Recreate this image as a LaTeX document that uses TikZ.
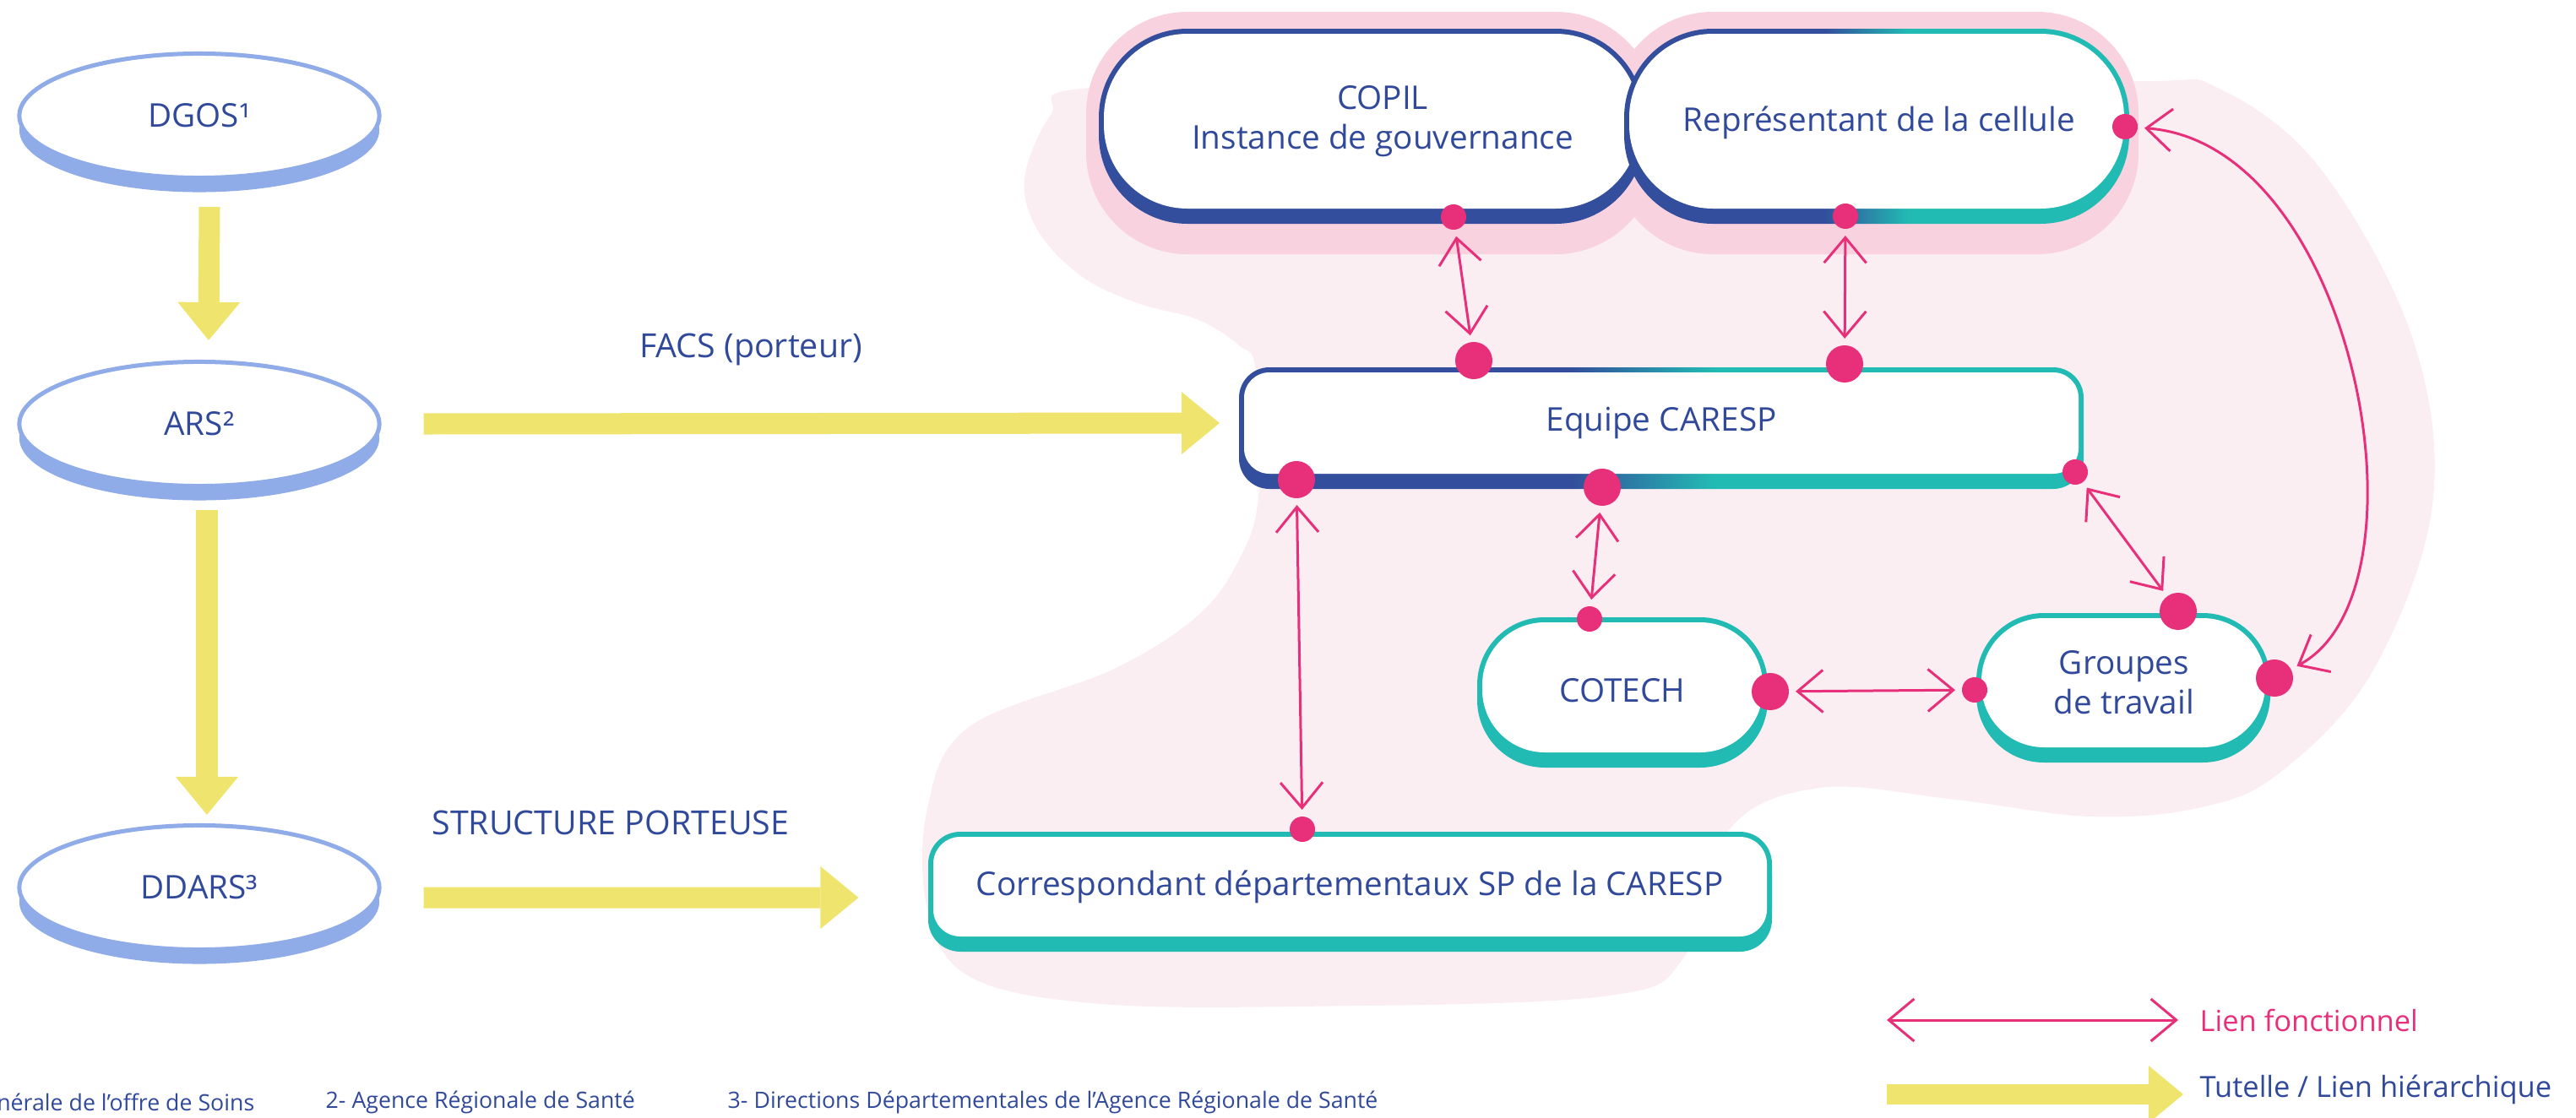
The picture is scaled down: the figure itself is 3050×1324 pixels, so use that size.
\documentclass[tikz,border=0pt]{standalone}
\usepackage{fontspec}
\setmainfont{Open Sans}
\usetikzlibrary{arrows.meta,shapes.geometric,shadows}
\definecolor{cnavy}{HTML}{334E9C}
\definecolor{ctext}{HTML}{31499A}
\definecolor{cteal}{HTML}{22BBB3}
\definecolor{cpink}{HTML}{E8307A}
\definecolor{cyel}{HTML}{EFE46D}
\definecolor{cell}{HTML}{8FABE8}
\definecolor{chalo}{HTML}{F9D2DF}
\definecolor{cblob}{HTML}{FBEEF2}
% x0,y0,x1,y1,Rout,Rin,color
\newcommand\solidbox[7]{%
  \fill[#7,rounded corners=#5] (#1,#2+12) rectangle (#3,#4+12);
  \fill[#7,rounded corners=#5] (#1,#2) rectangle (#3,#4);
  \fill[white,rounded corners=#6] (#1+6,#2+6) rectangle (#3-6,#4-6);
}
% x0,y0,x1,y1,Rout,Rin,g1,g2 (navy -> teal gradient between g1 and g2)
\newcommand\gradbox[8]{%
  \begin{scope}
    \clip[rounded corners=#5] (#1,#2) rectangle (#3,#4) (#1,#2+12) rectangle (#3,#4+12);
    \fill[cnavy] (#1-20,#2-20) rectangle (#7,#4+40);
    \shade[left color=cnavy,right color=cteal] (#7,#2-20) rectangle (#8,#4+40);
    \fill[cteal] (#8,#2-20) rectangle (#3+20,#4+40);
  \end{scope}
  \fill[white,rounded corners=#6] (#1+6,#2+6) rectangle (#3-6,#4-6);
}
\begin{document}
\begin{tikzpicture}[x=0.01cm,y=-0.01cm,
  lbl/.style={text=ctext,font=\fontsize{11}{13.4}\selectfont,align=center,inner sep=0pt},
  ell/.style={ellipse,draw=cell,line width=0.05cm,fill=white,minimum width=4.26cm,
    minimum height=1.47cm,inner sep=0pt,text=ctext,font=\fontsize{11}{13.4}\selectfont,
    general shadow={fill=cell,shadow xshift=0cm,shadow yshift=-0.17cm}},
  bigdot/.style={circle,fill=cpink,minimum size=0.44cm,inner sep=0pt,outer sep=0pt},
  smalldot/.style={circle,fill=cpink,minimum size=0.30cm,inner sep=0pt,outer sep=0pt},
  link/.style={draw=cpink,line width=0.03cm,>={Straight Barb[length=0.3cm,width=0.5cm]},<->,
    shorten <=0.08cm,shorten >=0.08cm},
  yarrow/.style={draw=cyel,line width=0.25cm,>={Triangle[length=0.45cm,width=0.74cm,line width=0pt]},->},
  foot/.style={text=ctext,font=\fontsize{7.6}{9}\selectfont,inner sep=0pt},
  leg/.style={font=\fontsize{9.8}{12}\selectfont,inner sep=0pt,anchor=west}]
\useasboundingbox (0,0) rectangle (3050,1324);
\clip (0,0) rectangle (3050,1324);

% background blob
\fill[cblob] plot[smooth cycle,tension=0.6] coordinates {
  (1292,104) (1700,100) (2100,100) (2529,96) (2626,104) (2747,199) (2856,399)
  (2880,598) (2808,797) (2697,917) (2602,957) (2474,967) (2315,947) (2155,933)
  (2047,983) (1995,1132) (1898,1180) (1535,1192) (1292,1188) (1147,1156)
  (1098,1077) (1098,957) (1147,861) (1317,793) (1417,730) (1467,663) (1490,587)
  (1487,440) (1467,409) (1417,378) (1350,360) (1283,329) (1230,275) (1213,212)
  (1244,136)};
% halo
\fill[chalo,rounded corners=1.2cm] (1286,14) rectangle (1962,301);
\fill[chalo,rounded corners=1.2cm] (1908,14) rectangle (2532,301);

% boxes
\solidbox{1301}{34}{1947}{253}{1.05cm}{0.99cm}{cnavy}
\gradbox{1923}{34}{2521}{253}{1.05cm}{0.99cm}{2160}{2260}
\gradbox{1467}{435}{2467}{567}{0.36cm}{0.30cm}{1860}{2030}
\solidbox{1749}{731}{2093}{897}{0.80cm}{0.74cm}{cteal}
\solidbox{2340}{726}{2688}{891}{0.80cm}{0.74cm}{cteal}
\solidbox{1099}{985}{2098}{1115}{0.38cm}{0.32cm}{cteal}

% ellipses
\node[ell] (dgos) at (236,137) {DGOS¹};
\node[ell] (ars) at (236,502) {ARS²};
\node[ell] (ddars) at (236,1051) {DDARS³};

% box labels
\node[lbl] (copil) at (1637,144) {COPIL\\Instance de gouvernance};
\node[lbl] (rep) at (2225,145) {Représentant de la cellule};
\node[lbl,minimum width=10cm,minimum height=1.32cm] (equipe) at (1967,501) {Equipe CARESP};
\node[lbl] (cotech) at (1921,818) {COTECH};
\node[lbl] (groupes) at (2515,808) {Groupes\\de travail};
\node[lbl,minimum width=9.99cm,minimum height=1.30cm] (corr) at (1598,1050) {Correspondant départementaux SP de la CARESP};

% side labels
\node[lbl,font=\fontsize{11.2}{13}\selectfont] (facs) at (889,414) {FACS (porteur)};
\node[lbl,font=\fontsize{11.2}{13}\selectfont] (struct) at (723,974) {STRUCTURE PORTEUSE};

% yellow arrows
\draw[yarrow] ([xshift=0.12cm,yshift=-0.32cm]dgos.south) -- ([xshift=0.11cm,yshift=0.23cm]ars.north);
\draw[yarrow] ([xshift=0.09cm,yshift=-0.26cm]ars.south) -- ([xshift=0.09cm,yshift=0.10cm]ddars.north);
\draw[yarrow] ([xshift=0.50cm]ars.east) -- ([xshift=-0.22cm]equipe.west);
\draw[yarrow] ([xshift=0.50cm,yshift=-0.12cm]ddars.east) -- ([xshift=-0.81cm,yshift=-0.13cm]corr.west);

% dots
\node[smalldot] (copilD) at (1721,257) {};
\node[smalldot] (repD) at (2185,256) {};
\node[smalldot] (repR) at (2516,150) {};
\node[bigdot] (eqT1) at (1745,427) {};
\node[bigdot] (eqT2) at (2184,431) {};
\node[bigdot] (eqB1) at (1535,568) {};
\node[bigdot] (eqB2) at (1897,577) {};
\node[smalldot] (eqR) at (2457,559) {};
\node[smalldot] (cotT) at (1882,733) {};
\node[bigdot] (cotR) at (2096,819) {};
\node[smalldot] (grpL) at (2338,817) {};
\node[bigdot] (grpT) at (2579,724) {};
\node[bigdot] (grpR) at (2693,803) {};
\node[smalldot] (corT) at (1542,982) {};

% functional links
\draw[link] (copilD) -- (eqT1);
\draw[link] (repD) -- (eqT2);
\draw[link] (eqB1) -- (corT);
\draw[link] (eqB2) -- (cotT);
\draw[link] (eqR) -- (grpT);
\draw[link] (cotR) -- (grpL);
\draw[link] (repR) .. controls (2790,170) and (2885,700) .. (grpR);

% legend
\coordinate (legA) at (2234,1208);
\coordinate (legB) at (2579,1208);
\draw[link,shorten <=0pt,shorten >=0pt] (legA) -- (legB);
\node[leg,text=cpink] (legT1) at (2604,1208) {Lien fonctionnel};
\coordinate (legC) at (2234,1296);
\coordinate (legD) at (2585,1296);
\draw[yarrow,line width=0.24cm,>={Triangle[length=0.41cm,width=0.68cm,line width=0pt]}] (legC) -- (legD);
\node[leg,text=ctext] (legT2) at (2604,1290) {Tutelle / Lien hiérarchique};

% footnotes
\node[foot,anchor=east] (f1) at (302,1305) {1- Direction Générale de l’offre de Soins};
\node[foot,anchor=west] (f2) at (385,1305) {2- Agence Régionale de Santé};
\node[foot,anchor=west] (f3) at (861,1305) {3- Directions Départementales de l’Agence Régionale de Santé};
\end{tikzpicture}
\end{document}
